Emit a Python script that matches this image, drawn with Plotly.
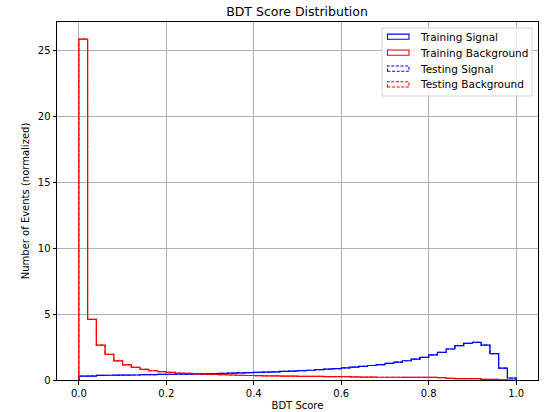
import plotly.graph_objects as go

bin_edges = [round(i * 0.02, 2) for i in range(51)]

train_signal = [0.30, 0.30, 0.35, 0.36, 0.37, 0.37, 0.38, 0.40, 0.41, 0.42,
                0.43, 0.44, 0.45, 0.46, 0.47, 0.49, 0.51, 0.52, 0.54, 0.56,
                0.58, 0.60, 0.62, 0.65, 0.68, 0.71, 0.74, 0.78, 0.82, 0.87,
                0.92, 0.98, 1.04, 1.10, 1.17, 1.26, 1.36, 1.46, 1.58, 1.72,
                1.90, 2.10, 2.35, 2.60, 2.78, 2.85, 2.65, 2.00, 0.90, 0.15]

train_background = [25.85, 4.60, 2.65, 1.95, 1.45, 1.15, 0.95, 0.80, 0.70, 0.63,
                    0.58, 0.53, 0.50, 0.47, 0.44, 0.42, 0.40, 0.38, 0.36, 0.34,
                    0.33, 0.32, 0.31, 0.30, 0.29, 0.28, 0.27, 0.27, 0.26, 0.26,
                    0.25, 0.23, 0.22, 0.22, 0.21, 0.21, 0.21, 0.20, 0.20, 0.20,
                    0.20, 0.18, 0.12, 0.11, 0.10, 0.10, 0.05, 0.05, 0.02, 0.00]

test_signal = [0.30, 0.31, 0.35, 0.36, 0.37, 0.38, 0.38, 0.40, 0.41, 0.42,
               0.43, 0.44, 0.45, 0.46, 0.48, 0.49, 0.51, 0.52, 0.54, 0.56,
               0.58, 0.60, 0.62, 0.65, 0.68, 0.71, 0.74, 0.78, 0.82, 0.87,
               0.92, 0.98, 1.04, 1.10, 1.17, 1.26, 1.36, 1.46, 1.58, 1.72,
               1.90, 2.10, 2.35, 2.60, 2.78, 2.85, 2.65, 2.00, 0.90, 0.15]

test_background = [25.85, 4.60, 2.65, 1.95, 1.45, 1.15, 0.95, 0.80, 0.70, 0.63,
                   0.58, 0.53, 0.50, 0.47, 0.44, 0.42, 0.40, 0.38, 0.36, 0.34,
                   0.33, 0.32, 0.31, 0.30, 0.29, 0.28, 0.27, 0.27, 0.26, 0.26,
                   0.25, 0.23, 0.22, 0.22, 0.21, 0.21, 0.21, 0.20, 0.20, 0.20,
                   0.20, 0.18, 0.12, 0.11, 0.10, 0.10, 0.05, 0.05, 0.02, 0.00]

series_names = ["Training Signal", "Training Background", "Testing Signal", "Testing Background"]
series_colors = ["blue", "red", "blue", "red"]
series_dash = ["solid", "solid", "dash", "dash"]

x_ticks = [0.0, 0.2, 0.4, 0.6, 0.8, 1.0]
y_ticks = [0, 5, 10, 15, 20, 25]

W, H = 546, 412
ML, MR, MT, MB = 57, 8, 22, 32
PW, PH = W - ML - MR, H - MT - MB


def step_xy(edges, vals):
    xs = [edges[0]] + edges[:-1] + [edges[-1], edges[-1]]
    ys = [0] + list(vals) + [vals[-1], 0]
    return xs, ys


def px_x(p):
    return (p - ML) / PW


def px_y(p):
    return 1 - (p - MT) / PH


fig = go.Figure()
all_vals = [train_signal, train_background, test_signal, test_background]
for name, vals, color, dash in zip(series_names, all_vals, series_colors, series_dash):
    xs, ys = step_xy(bin_edges, vals)
    fig.add_trace(go.Scatter(
        x=xs, y=ys, mode="lines", name=name, showlegend=False,
        line=dict(color=color, width=1.2, shape="hv",
                  dash="3.7px,1.6px" if dash == "dash" else "solid"),
        opacity=0.85 if dash == "dash" else 1.0,
    ))

# legend drawn as layout decoration (matplotlib-style patch legend)
shapes = [dict(type="rect", xref="paper", yref="paper",
               x0=px_x(382), x1=px_x(532), y0=px_y(96), y1=px_y(28),
               line=dict(color="#d6d6d6", width=1),
               fillcolor="rgba(255,255,255,0.8)", layer="above")]
annotations = []
row_centers = [36.7, 52.6, 68.6, 84.4]
for name, color, dash, cy in zip(series_names, series_colors, series_dash, row_centers):
    shapes.append(dict(type="rect", xref="paper", yref="paper",
                       x0=px_x(387.5), x1=px_x(409), y0=px_y(cy + 2.6), y1=px_y(cy - 2.6),
                       line=dict(color=color, width=1.1,
                                 dash="3px,1.6px" if dash == "dash" else "solid"),
                       fillcolor="rgba(0,0,0,0)", layer="above"))
    annotations.append(dict(text=name, xref="paper", yref="paper",
                            x=px_x(417.5), y=px_y(cy), xanchor="left", yanchor="middle",
                            showarrow=False, font=dict(size=10.5, color="black",
                                                       family="DejaVu Sans")))

ymax = max(max(train_background), max(test_background)) * 1.05

fig.update_layout(
    width=W, height=H,
    margin=dict(l=ML, r=MR, t=MT, b=MB),
    paper_bgcolor="white", plot_bgcolor="white",
    font=dict(family="DejaVu Sans", size=10, color="black"),
    title=dict(text="BDT Score Distribution", x=297 / W, xref="container",
               xanchor="center", y=1 - 11.5 / H, yanchor="middle",
               font=dict(size=12.5)),
    showlegend=False,
    shapes=shapes,
    annotations=annotations,
)
fig.update_xaxes(
    range=[-0.05, 1.05], tickvals=x_ticks,
    ticktext=[f"{v:.1f}" for v in x_ticks],
    showgrid=True, gridcolor="#b0b0b0", gridwidth=0.8,
    showline=True, linecolor="black", linewidth=1, mirror=True,
    ticks="outside", ticklen=3.5, tickcolor="black",
    zeroline=False, automargin=False,
    title=dict(text="BDT Score", font=dict(size=10), standoff=4),
)
fig.update_yaxes(
    range=[0, ymax], tickvals=y_ticks,
    showgrid=True, gridcolor="#b0b0b0", gridwidth=0.8,
    showline=True, linecolor="black", linewidth=1, mirror=True,
    ticks="outside", ticklen=3.5, tickcolor="black",
    zeroline=False, automargin=False,
    title=dict(text="Number of Events (normalized)", font=dict(size=10), standoff=6),
)

fig.write_html("out.html",
               config={"displayModeBar": False},
               post_script="document.body.style.margin='0';document.body.style.overflow='hidden';")
